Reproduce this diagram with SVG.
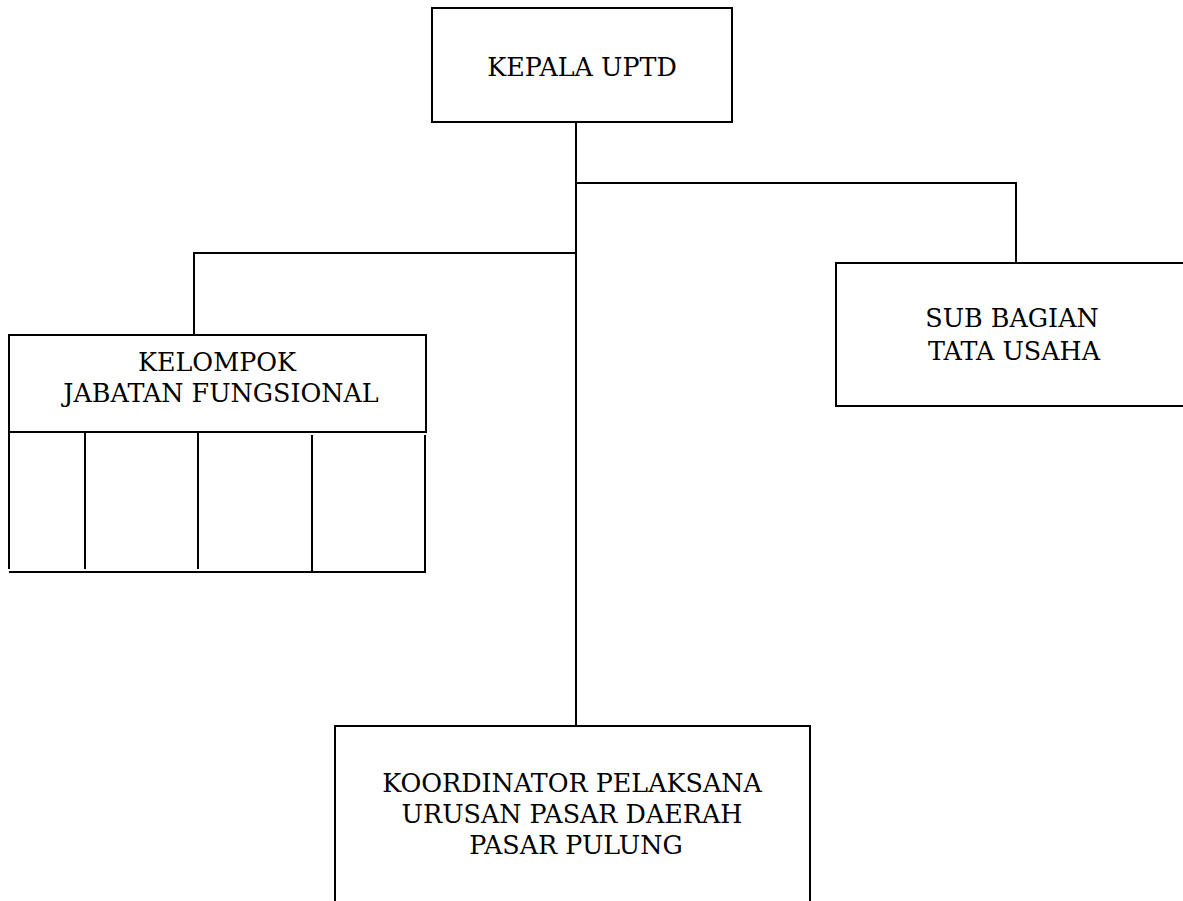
<svg xmlns="http://www.w3.org/2000/svg" width="1183" height="901" viewBox="0 0 1183 901">
<style>
.box{fill:#fff;stroke:#000;stroke-width:2}
.ln{stroke:#000;stroke-width:2;fill:none}
.t{font-family:"DejaVu Serif","Liberation Serif",serif;font-size:25.4px;fill:#000;text-anchor:middle}
</style>
<rect width="1183" height="901" fill="#fff"/>
<g id="connectors">
<line class="ln" x1="576" y1="122" x2="576" y2="726"/>
<polyline class="ln" points="576,183 1016,183 1016,263"/>
<polyline class="ln" points="576,253 194,253 194,335"/>
</g>
<g id="kepala">
<rect class="box" x="432" y="8" width="300" height="114"/>
<text class="t" x="582" y="76">KEPALA UPTD</text>
</g>
<g id="kelompok">
<rect class="box" x="9" y="335" width="417" height="97"/>
<text class="t" x="217" y="371">KELOMPOK</text>
<text class="t" x="221" y="402">JABATAN FUNGSIONAL</text>
<line class="ln" x1="9" y1="432" x2="9" y2="569"/>
<line class="ln" x1="85" y1="432" x2="85" y2="569"/>
<line class="ln" x1="198" y1="432" x2="198" y2="569"/>
<line class="ln" x1="312" y1="435" x2="312" y2="572"/>
<line class="ln" x1="425" y1="435" x2="425" y2="572"/>
<line class="ln" x1="9" y1="572" x2="426" y2="572"/>
</g>
<g id="subbagian">
<rect class="box" x="836" y="263" width="360" height="143"/>
<text class="t" x="1012" y="327">SUB BAGIAN</text>
<text class="t" x="1014" y="360">TATA USAHA</text>
</g>
<g id="koordinator">
<rect class="box" x="335" y="726" width="475" height="200"/>
<text class="t" x="572" y="792">KOORDINATOR PELAKSANA</text>
<text class="t" x="572" y="823">URUSAN PASAR DAERAH</text>
<text class="t" x="576" y="854">PASAR PULUNG</text>
</g>
</svg>
